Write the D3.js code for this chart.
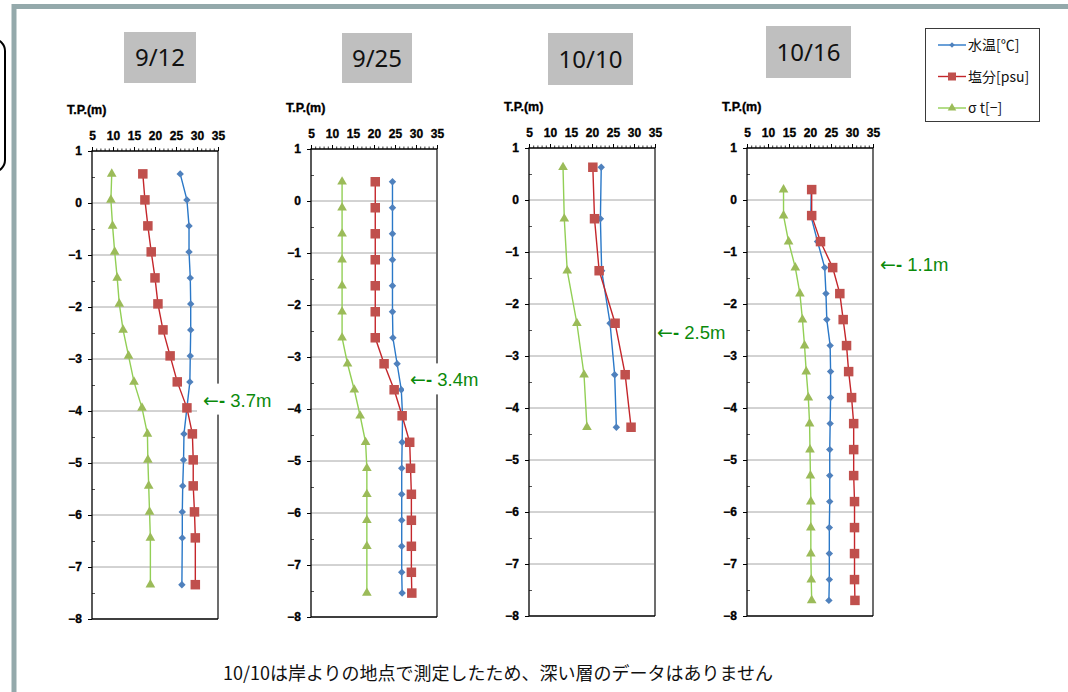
<!DOCTYPE html>
<html>
<head>
<meta charset="utf-8">
<script src="https://cdn.jsdelivr.net/npm/d3@7"></script>
<style>
  body { margin: 0; background: #fff; }
  svg { display: block; }
</style>
</head>
<body>
<svg id="chart" width="1068" height="692"></svg>
<script>
// ---- data ----
const dates = ['9/12', '9/25', '10/10', '10/16'];
const xTicks = [5, 10, 15, 20, 25, 30, 35];
const yTicks = [1, 0, -1, -2, -3, -4, -5, -6, -7, -8];
const seriesNames = ['水温[℃]', '塩分[psu]', 'σ t[−]'];

// 9/12
const depth0912 = [0.56, 0.06, -0.44, -0.94, -1.44, -1.94, -2.44, -2.94, -3.44, -3.94, -4.44, -4.94, -5.44, -5.94, -6.44, -7.34];
const temp0912 = [26.0, 27.6, 28.1, 28.1, 28.4, 28.5, 28.5, 28.4, 28.3, 27.6, 26.9, 26.8, 26.6, 26.5, 26.5, 26.4];
const sal0912 = [17.1, 17.6, 18.3, 19.1, 20.0, 20.7, 21.9, 23.6, 25.3, 27.6, 28.9, 29.1, 29.1, 29.4, 29.6, 29.6];
const sig0912 = [9.7, 9.5, 9.9, 10.4, 11.0, 11.5, 12.4, 13.7, 15.0, 16.9, 18.2, 18.3, 18.5, 18.7, 18.9, 18.9];

// 9/25
const depth0925 = [0.37, -0.13, -0.63, -1.13, -1.63, -2.13, -2.63, -3.13, -3.63, -4.13, -4.64, -5.14, -5.64, -6.14, -6.64, -7.14, -7.54];
const temp0925 = [24.4, 24.4, 24.4, 24.4, 24.4, 24.4, 24.5, 25.5, 26.5, 26.8, 26.7, 26.6, 26.6, 26.6, 26.6, 26.6, 26.7];
const sal0925 = [20.3, 20.3, 20.3, 20.3, 20.3, 20.3, 20.3, 22.4, 24.8, 26.7, 28.5, 28.7, 28.9, 28.9, 28.9, 28.9, 29.0];
const sig0925 = [12.4, 12.4, 12.4, 12.4, 12.4, 12.4, 12.4, 13.7, 15.3, 16.7, 18.0, 18.3, 18.3, 18.3, 18.3, null, 18.3];

// 10/10
const depth1010 = [0.63, -0.36, -1.36, -2.37, -3.36, -4.37];
const temp1010 = [22.2, 22.0, 22.3, 24.3, 25.4, 25.8];
const sal1010 = [20.2, 20.6, 21.7, 25.5, 27.9, 29.3];
const sig1010 = [13.1, 13.4, 14.1, 16.4, 18.1, 18.8];

// 10/16
const depth1016 = [0.2, -0.3, -0.8, -1.3, -1.8, -2.3, -2.8, -3.3, -3.8, -4.3, -4.8, -5.3, -5.8, -6.3, -6.8, -7.3, -7.7];
const temp1016 = [20.3, 20.2, 21.8, 23.5, 23.8, 24.0, 24.8, 24.9, 24.9, 24.8, 24.7, 24.7, 24.7, 24.6, 24.6, 24.6, 24.5];
const sal1016 = [20.4, 20.4, 22.5, 25.4, 27.1, 27.9, 28.7, 29.2, 29.9, 30.4, 30.4, 30.4, 30.6, 30.6, 30.6, 30.6, 30.7];
const sig1016 = [13.7, 13.7, 14.9, 16.5, 17.6, 18.2, 18.7, 19.1, 19.6, 19.9, 20.0, 20.1, 20.2, 20.2, 20.2, 20.3, 20.4];

// 矢印の注記
const markLabels = ['3.7m', '3.4m', '2.5m', '1.1m'];
const markDepths = [-3.8, -3.45, -2.55, -1.25];

const note = '10/10は岸よりの地点で測定したため、深い層のデータはありません';

// ---- layout ----
const panels = [
    {depth: depth0912, temp: temp0912, sal: sal0912, sig: sig0912, left: 92, top: 151,
        box: [124, 32, 72, 51], markX: 203, markBox: true},
    {depth: depth0925, temp: temp0925, sal: sal0925, sig: sig0925, left: 311, top: 149,
        box: [342, 33, 70, 50], markX: 410, markBox: true},
    {depth: depth1010, temp: temp1010, sal: sal1010, sig: sig1010, left: 529, top: 148,
        box: [548, 33, 85, 52], markX: 657, markBox: false},
    {depth: depth1016, temp: temp1016, sal: sal1016, sig: sig1016, left: 747, top: 148,
        box: [766, 26, 85, 52], markX: 880, markBox: false}
];
const plotW = 126, plotH = 468;

const lineColors = ['#2a78c8', '#c4262b', '#92cf55'];
const markColors = ['#4f81bd', '#c0504d', '#9bbb59'];
const boldFont = '"Liberation Sans", Arial, sans-serif';

let svg = d3.select('#chart');

// 外枠
svg.append('rect')
    .attr('x', 14).attr('y', 6.5)
    .attr('width', 1200).attr('height', 900)
    .attr('fill', 'none')
    .attr('stroke', '#94a9ab')
    .attr('stroke-width', 5);
// 左の角丸枠(はみ出し)
svg.append('rect')
    .attr('x', -30).attr('y', 39)
    .attr('width', 35).attr('height', 133)
    .attr('rx', 12)
    .attr('fill', '#fff')
    .attr('stroke', '#000')
    .attr('stroke-width', 2);

// マーカー
function drawMarker(sel, type, size) {
    if (type === 0) {
        sel.append('path')
            .attr('d', d3.symbol().type(d3.symbolDiamond2).size(size * size * 0.55)())
            .attr('fill', markColors[0]);
    } else if (type === 1) {
        sel.append('rect')
            .attr('x', -size / 2).attr('y', -size / 2)
            .attr('width', size).attr('height', size)
            .attr('fill', markColors[1]);
    } else {
        sel.append('path')
            .attr('d', d3.symbol().type(d3.symbolTriangle).size(size * size * 0.5)())
            .attr('fill', markColors[2]);
    }
}

// 太字ラベル
function heavy(sel, size) {
    sel.style('font-family', boldFont)
        .style('font-size', size + 'px')
        .style('font-weight', 'bold')
        .attr('fill', '#000')
        .attr('stroke', '#000')
        .attr('stroke-width', 0.35);
}

panels.forEach(function (p, i) {
    let x = d3.scaleLinear().domain([5, 35]).range([p.left, p.left + plotW]);
    let y = d3.scaleLinear().domain([1, -8]).range([p.top, p.top + plotH]);
    let g = svg.append('g');

    // タイトル
    g.append('rect')
        .attr('x', p.box[0]).attr('y', p.box[1])
        .attr('width', p.box[2]).attr('height', p.box[3])
        .attr('fill', '#bfbfbf');
    g.append('text')
        .attr('x', p.box[0] + p.box[2] / 2)
        .attr('y', p.box[1] + p.box[3] / 2 + 8.5)
        .attr('text-anchor', 'middle')
        .style('font-family', '"Noto Sans", sans-serif')
        .style('font-size', '24px')
        .attr('fill', '#111')
        .text(dates[i]);

    g.append('text')
        .attr('x', p.left - 25).attr('y', p.top - 37)
        .call(heavy, 12.5)
        .text('T.P.(m)');

    // グリッド
    g.append('g').selectAll('line')
        .data(yTicks.filter(function (t) { return t < 1 && t > -8; }))
        .enter().append('line')
        .attr('x1', p.left).attr('x2', p.left + plotW)
        .attr('y1', function (d) { return y(d); })
        .attr('y2', function (d) { return y(d); })
        .attr('stroke', '#a6a6a6').attr('stroke-width', 1);

    // x軸(上)
    let xAxis = g.append('g').attr('transform', 'translate(0,' + p.top + ')')
        .call(d3.axisTop(x).tickValues(d3.range(5, 36, 1)).tickSize(2.5).tickFormat(''));
    xAxis.select('.domain').remove();
    xAxis.selectAll('line').attr('stroke', '#000').attr('stroke-width', 0.8);
    let xMajor = g.append('g').attr('transform', 'translate(0,' + p.top + ')')
        .call(d3.axisTop(x).tickValues(xTicks).tickSize(4).tickPadding(7));
    xMajor.select('.domain').remove();
    xMajor.selectAll('line').attr('stroke', '#000');
    xMajor.selectAll('text').call(heavy, 12);

    // y軸
    let yAxis = g.append('g').attr('transform', 'translate(' + p.left + ',0)')
        .call(d3.axisLeft(y).tickValues(yTicks).tickSize(4).tickPadding(6)
            .tickFormat(function (d) { return d < 0 ? '−' + Math.abs(d) : d; }));
    yAxis.select('.domain').remove();
    yAxis.selectAll('line').attr('stroke', '#000');
    yAxis.selectAll('text').call(heavy, 12);
    let yMinor = g.append('g').attr('transform', 'translate(' + p.left + ',0)')
        .call(d3.axisRight(y).tickValues(d3.range(0.5, -8, -1)).tickSize(3).tickFormat(''));
    yMinor.select('.domain').remove();
    yMinor.selectAll('line').attr('stroke', '#555');

    // 枠線
    g.append('line').attr('x1', p.left + plotW).attr('x2', p.left + plotW)
        .attr('y1', p.top).attr('y2', p.top + plotH)
        .attr('stroke', '#6d6d6d').attr('stroke-width', 2);
    g.append('path')
        .attr('d', 'M' + (p.left + plotW) + ',' + p.top + 'H' + p.left + 'V' + (p.top + plotH) + 'H' + (p.left + plotW))
        .attr('fill', 'none').attr('stroke', '#000').attr('stroke-width', 1.3);

    // 系列
    let series = [p.temp, p.sal, p.sig];
    [2, 0, 1].forEach(function (k) {
        let pts = p.depth.map(function (d, j) { return {d: d, v: series[k][j]}; })
            .filter(function (d) { return d.v != null; });
        let line = d3.line()
            .x(function (d) { return x(d.v); })
            .y(function (d) { return y(d.d); });
        g.append('path')
            .datum(pts)
            .attr('d', line)
            .attr('fill', 'none')
            .attr('stroke', lineColors[k])
            .attr('stroke-width', 1.4);
        let size = k === 0 ? 8 : (k === 1 ? 9.5 : 9);
        g.append('g').selectAll('g')
            .data(pts)
            .enter().append('g')
            .attr('transform', function (d) { return 'translate(' + x(d.v) + ',' + y(d.d) + ')'; })
            .each(function () { drawMarker(d3.select(this), k, size); });
    });

    // 注記
    let my = y(markDepths[i]);
    if (p.markBox) {
        g.append('rect')
            .attr('x', p.markX - 6).attr('y', my - 17)
            .attr('width', 84).attr('height', 31)
            .attr('fill', '#fff');
    }
    let mt = g.append('text')
        .attr('x', p.markX).attr('y', my + 6)
        .style('font-family', '"Liberation Sans", Arial, sans-serif')
        .style('font-size', '18.5px')
        .attr('fill', '#0b8a0b');
    mt.append('tspan').style('font-family', '"DejaVu Sans", sans-serif')
        .style('font-size', '19px').text('←');
    mt.append('tspan').style('font-weight', 'bold').text('- ');
    mt.append('tspan').text(markLabels[i]);
});

// 凡例
let lg = svg.append('g');
lg.append('rect')
    .attr('x', 925.5).attr('y', 28.5)
    .attr('width', 114).attr('height', 93)
    .attr('fill', '#fff').attr('stroke', '#3a3a3a').attr('stroke-width', 1);
let legendY = d3.scalePoint().domain(d3.range(3)).range([45, 108]);
seriesNames.forEach(function (name, k) {
    let ly = legendY(k);
    lg.append('line')
        .attr('x1', 938).attr('x2', 966)
        .attr('y1', ly).attr('y2', ly)
        .attr('stroke', lineColors[k]).attr('stroke-width', 1.4);
    let m = lg.append('g').attr('transform', 'translate(952,' + ly + ')');
    drawMarker(m, k, k === 0 ? 6 : 8);
    lg.append('text')
        .attr('x', 968).attr('y', ly + 5)
        .style('font-family', '"Noto Sans CJK JP", sans-serif')
        .style('font-size', '14px')
        .attr('fill', '#111')
        .text(name);
});

// 注釈
svg.append('text')
    .attr('x', 498).attr('y', 680)
    .attr('text-anchor', 'middle')
    .style('font-family', '"Noto Sans CJK JP", sans-serif')
    .style('font-size', '18px')
    .attr('fill', '#111')
    .text(note);
</script>
</body>
</html>
